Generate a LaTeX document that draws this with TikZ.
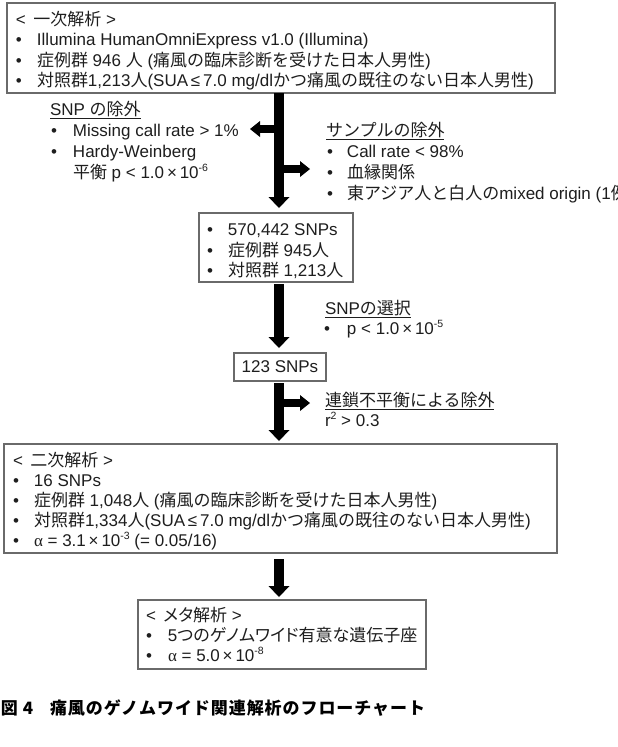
\documentclass[tikz,border=0pt]{standalone}
\usepackage{fontspec}
\setmainfont{Liberation Sans}
\newfontfamily\cjk{Noto Sans CJK JP}[Scale=1.0]
\newfontfamily\cjkp{Noto Sans CJK JP}[Scale=1.0,RawFeature=+palt]
\newfontfamily\grk{Liberation Serif}
\newfontfamily\capfont{Noto Sans CJK JP}[LetterSpace=5.5]
\usetikzlibrary{arrows.meta}
\newcommand\J[1]{{\cjk #1}}
\newcommand\JP[1]{{\cjkp #1}}
\newcommand\alp{{\grk α}}
\newcommand\supr[1]{\raisebox{6.5pt}{\fontsize{10.5}{10}\selectfont #1}}
\newcommand\bul[2][21pt]{\makebox[#1][l]{•}#2}
\definecolor{boxgray}{HTML}{6A6A6A}
\definecolor{ink}{HTML}{1E1E1E}
\tikzset{
  txt/.style={anchor=base west, inner sep=0pt, outer sep=0pt, text=ink, font=\fontsize{17}{20}\selectfont},
  box/.style={draw=boxgray, line width=1.2pt, inner sep=0pt, outer sep=0pt},
  shaft/.style={line width=10pt, draw=black, -{Triangle[width=21pt,length=11pt,line width=0pt]}},
  branch/.style={line width=8pt, draw=black, -{Triangle[width=16pt,length=10pt,line width=0pt]}},
  captxt/.style={txt, text=black, font=\capfont\bfseries\fontsize{17}{20}\selectfont}
}
\begin{document}
\begin{tikzpicture}[x=1pt,y=-1pt]
\fill[white] (0,0) rectangle (618,747);
\useasboundingbox (0,0) rectangle (618,747);
\coordinate (ax) at (279,0);

% boxes
\node[box, minimum width=548pt, minimum height=90pt] (b1) at (281,48) {};
\node[box, minimum width=154pt, minimum height=69pt] (b2) at (276,247.5) {};
\node[box, minimum width=92pt, minimum height=28pt, text=ink, font=\fontsize{17}{20}\selectfont] (b123) at (280,367) {123 SNPs};
\node[box, minimum width=553pt, minimum height=109pt] (b3) at (280.5,498.5) {};
\node[box, minimum width=288pt, minimum height=69pt] (b4) at (282,634.5) {};

% box 1 text
\node[txt] (t1a) at (16,25) {<\hspace{7.5pt}\J{一次解析} >};
\node[txt] (t1b) at (16,45.5) {\bul{Illumina HumanOmniExpress v1.0 (Illumina)}};
\node[txt] (t1c) at (16,66) {\bul{\J{症例群} 946 \J{人} (\J{痛風の臨床診断を受けた日本人男性})}};
\node[txt] (t1d) at (16,86.5) {\bul{\J{対照群}1,213\J{人}(SUA\,≤\,7.0 mg/dl\J{かつ痛風の既往のない日本人男性})}};

% SNP exclusion
\node[txt] (h1) at (50,115) {\underline{SNP \J{の除外}}};
\node[txt] (s1) at (51,136) {\bul[22pt]{Missing call rate > 1\%}};
\node[txt] (s2) at (51,157) {\bul[22pt]{Hardy-Weinberg}};
\node[txt] (s3) at (73,178) {\J{平衡} p < 1.0\,×\,10\supr{-6}};

% sample exclusion
\node[txt] (h2) at (326,136) {\underline{\J{サンプルの除外}}};
\node[txt] (u1) at (327,157) {\bul[20pt]{Call rate < 98\%}};
\node[txt] (u2) at (327,178) {\bul[20pt]{\J{血縁関係}}};
\node[txt] (u3) at (327,199) {\bul[20pt]{\J{東アジア人と白人の}mixed origin (1\J{例}}};

% box 2 text
\node[txt] (t2a) at (207,235.3) {\bul{570,442 SNPs}};
\node[txt] (t2b) at (207,256.7) {\bul{\J{症例群} 945\J{人}}};
\node[txt] (t2c) at (207,276.7) {\bul{\J{対照群} 1,213\J{人}}};

% SNP selection
\node[txt] (h3) at (325,314) {\underline{SNP\J{の選択}}};
\node[txt] (p1) at (324,334) {\bul[23pt]{p < 1.0\,×\,10\supr{-5}}};

% LD exclusion
\node[txt] (h4) at (325,406) {\underline{\J{連鎖不平衡による除外}}};
\node[txt] (r1) at (325,426) {r\supr{2} > 0.3};

% box 3 text
\node[txt] (t3a) at (13,466) {<\hspace{7.5pt}\J{二次解析} >};
\node[txt] (t3b) at (13,486) {\bul{16 SNPs}};
\node[txt] (t3c) at (13,506) {\bul{\J{症例群} 1,048\J{人} (\J{痛風の臨床診断を受けた日本人男性})}};
\node[txt] (t3d) at (13,526) {\bul{\J{対照群}1,334\J{人}(SUA\,≤\,7.0 mg/dl\J{かつ痛風の既往のない日本人男性})}};
\node[txt] (t3e) at (13,546) {\bul{\alp{} = 3.1\,×\,10\supr{-3} (= 0.05/16)}};

% box 4 text
\node[txt] (t4a) at (146,621) {<\hspace{7.5pt}\JP{メタ解析} >};
\node[txt] (t4b) at (146,641.5) {\bul[22pt]{5\JP{つのゲノムワイド有意な遺伝子座}}};
\node[txt] (t4c) at (146,661) {\bul[22pt]{\alp{} = 5.0\,×\,10\supr{-8}}};

% caption
\node[captxt] (c1) at (1,714.5) {図 4};
\node[captxt] (c2) at (50,714.5) {痛風のゲノムワイド関連解析のフローチャート};

% arrows
\coordinate (lb) at (250,129);
\coordinate (rb1) at (310,169);
\coordinate (rb2) at (310,403);
\draw[shaft, shorten >=5pt] (b1.south -| ax) -- (b2.north -| ax);
\draw[branch] (ax |- lb) -- (lb);
\draw[branch] (ax |- rb1) -- (rb1);
\draw[shaft, shorten <=2pt, shorten >=5pt] (b2.south -| ax) -- (b123.north -| ax);
\draw[shaft, shorten <=2pt, shorten >=3pt] (b123.south -| ax) -- (b3.north -| ax);
\draw[branch] (ax |- rb2) -- (rb2);
\draw[shaft, shorten <=6pt, shorten >=3pt] (b3.south -| ax) -- (b4.north -| ax);
\end{tikzpicture}
\end{document}
